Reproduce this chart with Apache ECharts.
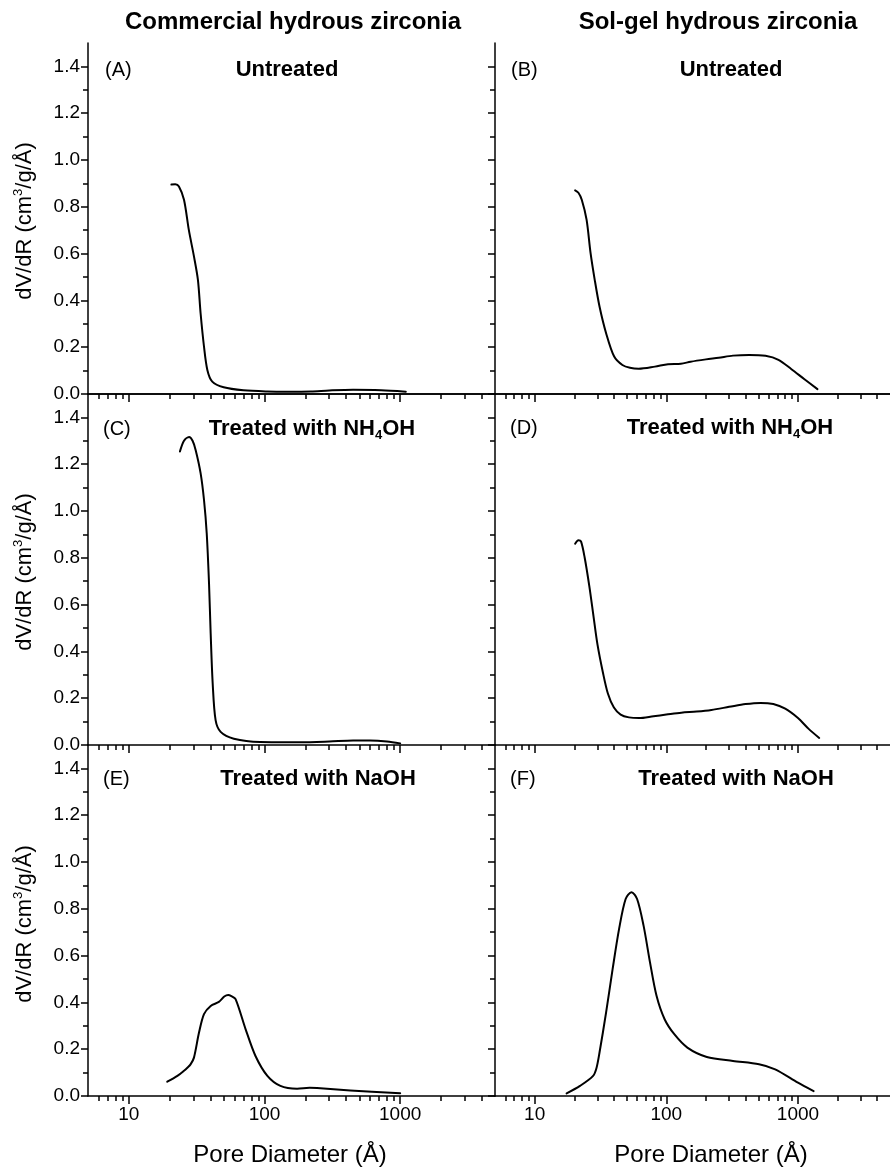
<!DOCTYPE html>
<html>
<head>
<meta charset="utf-8">
<script src="https://cdn.jsdelivr.net/npm/echarts@6/dist/echarts.min.js"></script>
<style>
html,body{margin:0;padding:0;background:#fff;}
#chart{width:890px;height:1168px;}
</style>
</head>
<body>
<div id="chart"></div>
<script>
// ---------------- DATA ----------------
const columnTitles = ['Commercial hydrous zirconia', 'Sol-gel hydrous zirconia'];
const panelLetters = ['(A)', '(B)', '(C)', '(D)', '(E)', '(F)'];
const panelTitles = ['Untreated', 'Untreated', 'Treated with NH4OH', 'Treated with NH4OH', 'Treated with NaOH', 'Treated with NaOH'];
const xAxisName = 'Pore Diameter (Å)';
const yTickLabels = [0, 0.2, 0.4, 0.6, 0.8, 1.0, 1.2, 1.4];
const yMinorTicks = [0.1, 0.3, 0.5, 0.7, 0.9, 1.1, 1.3];
const xTickLabels = [10, 100, 1000];
const xMinorTicks = [6, 7, 8, 9, 20, 30, 40, 50, 60, 70, 80, 90, 200, 300, 400, 500, 600, 700, 800, 900, 2000, 3000, 4000];

// Panel A: commercial, untreated
const panelA = [[20.6,0.895],[22,0.896],[23.4,0.887],[25.5,0.83],[27.7,0.70],[30.2,0.588],[32.3,0.488],[33.8,0.345],[35.8,0.203],[37.9,0.103],[41.2,0.053],[50,0.029],[70,0.016],[105,0.011],[150,0.010],[220,0.011],[300,0.015],[450,0.018],[650,0.017],[850,0.014],[1100,0.010]];
// Panel B: sol-gel, untreated
const panelB = [[20.3,0.870],[21.5,0.860],[22.8,0.830],[24.8,0.745],[26.6,0.602],[28.6,0.488],[31.1,0.374],[34.9,0.260],[40.2,0.160],[46.4,0.124],[53,0.112],[61.7,0.108],[81.9,0.117],[103,0.127],[129,0.129],[153,0.138],[200,0.148],[250,0.155],[321,0.164],[426,0.167],[567,0.163],[711,0.146],[892,0.106],[1120,0.063],[1406,0.021]];
// Panel C: commercial, NH4OH
const panelC = [[23.8,1.254],[25.5,1.300],[27.8,1.316],[29.5,1.300],[31.1,1.260],[33.8,1.162],[35.8,1.048],[37.5,0.905],[39,0.690],[40.1,0.477],[41.5,0.263],[43.6,0.106],[47.5,0.056],[59.4,0.027],[93,0.013],[184,0.012],[300,0.015],[450,0.019],[600,0.019],[800,0.015],[1000,0.007]];
// Panel D: sol-gel, NH4OH
const panelD = [[20.3,0.860],[21.5,0.875],[22.5,0.870],[24,0.800],[26,0.680],[28,0.550],[30,0.430],[33,0.310],[36,0.220],[40,0.160],[45,0.130],[52,0.118],[62,0.115],[80,0.123],[100,0.130],[130,0.138],[170,0.143],[220,0.150],[300,0.163],[400,0.175],[520,0.180],[650,0.175],[800,0.155],[1000,0.115],[1200,0.070],[1450,0.030]];
// Panel E: commercial, NaOH
const panelE = [[19.2,0.061],[22.8,0.086],[25.5,0.108],[27,0.121],[28.5,0.135],[30.2,0.164],[32.9,0.271],[35.8,0.350],[40.1,0.385],[46.1,0.402],[50.5,0.425],[54,0.432],[57,0.427],[61.2,0.414],[72.5,0.286],[85.8,0.171],[105,0.086],[131,0.043],[174,0.031],[215,0.035],[244,0.034],[429,0.024],[1000,0.012]];
// Panel F: sol-gel, NaOH
const panelF = [[17.5,0.011],[22.1,0.043],[27.8,0.086],[29.5,0.120],[31.1,0.186],[34.9,0.357],[39.1,0.542],[43.8,0.714],[49.1,0.842],[54.4,0.871],[60,0.842],[67.2,0.728],[75.2,0.571],[84.3,0.428],[97.1,0.328],[115,0.264],[144.5,0.207],[203,0.167],[321,0.150],[506,0.136],[671,0.114],[1000,0.057],[1315,0.021]];

const panels = [panelA, panelB, panelC, panelD, panelE, panelF];

// ---------------- LAYOUT ----------------
const FONT = '"Liberation Sans", Arial, Helvetica, sans-serif';
const rowTops = [43, 394, 745];
const rowH = 351;
const colLeft = [88, 495];
const colW = [407, 406];
const letterPos = [[105, 70], [511, 70], [103, 429], [510, 428], [103, 779], [510, 779]];
const titlePos = [[287, 70], [731, 70], [312, 429], [730, 428], [318, 779], [736, 779]];

const grid = [], xAxis = [], yAxis = [], series = [];
const lineStyleAxis = { color: '#000', width: 1.5 };

for (let i = 0; i < 6; i++) {
  const row = Math.floor(i / 2), col = i % 2;
  grid.push({ left: colLeft[col], top: rowTops[row], width: colW[col], height: rowH, containLabel: false });
  const xMajor = xAxis.length;
  xAxis.push({
    type: 'log', logBase: 10, min: 5, max: 5000, gridIndex: i, position: 'bottom',
    axisLine: { show: true, onZero: false, lineStyle: lineStyleAxis },
    axisTick: { show: true, inside: false, length: 8, customValues: xTickLabels, lineStyle: lineStyleAxis },
    axisLabel: { show: row === 2, customValues: xTickLabels, formatter: v => String(Math.round(v)),
      fontSize: 19, color: '#000', fontFamily: FONT, margin: 9 },
    splitLine: { show: false }, minorTick: { show: false }
  });
  xAxis.push({
    type: 'log', logBase: 10, min: 5, max: 5000, gridIndex: i, position: 'bottom',
    axisLine: { show: false },
    axisTick: { show: true, inside: false, length: 5, customValues: xMinorTicks, lineStyle: lineStyleAxis },
    axisLabel: { show: false }, splitLine: { show: false }
  });
  if (row === 0) {
    xAxis.push({
      type: 'log', logBase: 10, min: 5, max: 5000, gridIndex: i, position: 'top',
      axisLine: { show: true, lineStyle: lineStyleAxis },
      axisTick: { show: false }, axisLabel: { show: false }, splitLine: { show: false }
    });
  }
  const yMajor = yAxis.length;
  yAxis.push({
    type: 'value', min: 0, max: 1.5, gridIndex: i, position: 'left',
    axisLine: { show: true, onZero: false, lineStyle: lineStyleAxis },
    axisTick: { show: true, inside: false, length: 7, customValues: yTickLabels, lineStyle: lineStyleAxis },
    axisLabel: { show: col === 0, customValues: yTickLabels, formatter: v => v.toFixed(1),
      fontSize: 19, color: '#000', fontFamily: FONT, margin: 8 },
    splitLine: { show: false }
  });
  yAxis.push({
    type: 'value', min: 0, max: 1.5, gridIndex: i, position: 'left',
    axisLine: { show: false },
    axisTick: { show: true, inside: false, length: 5, customValues: yMinorTicks, lineStyle: lineStyleAxis },
    axisLabel: { show: false }, splitLine: { show: false }
  });
  series.push({
    type: 'line', xAxisIndex: xMajor, yAxisIndex: yMajor, data: panels[i],
    showSymbol: false, symbol: 'none', smooth: 0.3, clip: true,
    lineStyle: { color: '#000', width: 2, join: 'round', cap: 'round' }
  });
}

const graphic = [];
// column titles
[[293, 22], [718, 22]].forEach((p, c) => {
  graphic.push({ type: 'text', x: p[0], y: p[1], style: {
    text: columnTitles[c], fill: '#000', font: 'bold 24px ' + FONT, textAlign: 'center', textVerticalAlign: 'middle' } });
});
// panel letters and titles
for (let i = 0; i < 6; i++) {
  graphic.push({ type: 'text', x: letterPos[i][0], y: letterPos[i][1], style: {
    text: panelLetters[i], fill: '#000', font: '20px ' + FONT, textAlign: 'left', textVerticalAlign: 'middle' } });
  const t = panelTitles[i];
  let rich;
  if (t.indexOf('NH4OH') >= 0) {
    rich = '{b|' + t.replace('NH4OH', 'NH') + '}{sub|4}{b|OH}';
  } else {
    rich = '{b|' + t + '}';
  }
  graphic.push({ type: 'text', x: titlePos[i][0], y: titlePos[i][1], style: {
    text: rich, textAlign: 'center', textVerticalAlign: 'middle',
    rich: {
      b: { fontSize: 22, fontWeight: 'bold', fontFamily: FONT, fill: '#000', lineHeight: 26 },
      sub: { fontSize: 13, fontWeight: 'bold', fontFamily: FONT, fill: '#000', lineHeight: 26, verticalAlign: 'bottom' }
    } } });
}
// y-axis names
[221, 572, 924].forEach(cy => {
  graphic.push({ type: 'text', x: 25, y: cy, rotation: Math.PI / 2, style: {
    text: '{a|dV/dR (cm}{s|3}{a|/g/Å)}', textAlign: 'center', textVerticalAlign: 'middle',
    rich: {
      a: { fontSize: 22, fontFamily: FONT, fill: '#000', lineHeight: 26 },
      s: { fontSize: 13, fontFamily: FONT, fill: '#000', lineHeight: 26, verticalAlign: 'top' }
    } } });
});
// x-axis names
[290, 711].forEach(cx => {
  graphic.push({ type: 'text', x: cx, y: 1155, style: {
    text: xAxisName, fill: '#000', font: '24px ' + FONT, textAlign: 'center', textVerticalAlign: 'middle' } });
});

const chart = echarts.init(document.getElementById('chart'), null, { renderer: 'canvas' });
chart.setOption({
  animation: false,
  backgroundColor: '#fff',
  grid, xAxis, yAxis, series, graphic
});
</script>
</body>
</html>
